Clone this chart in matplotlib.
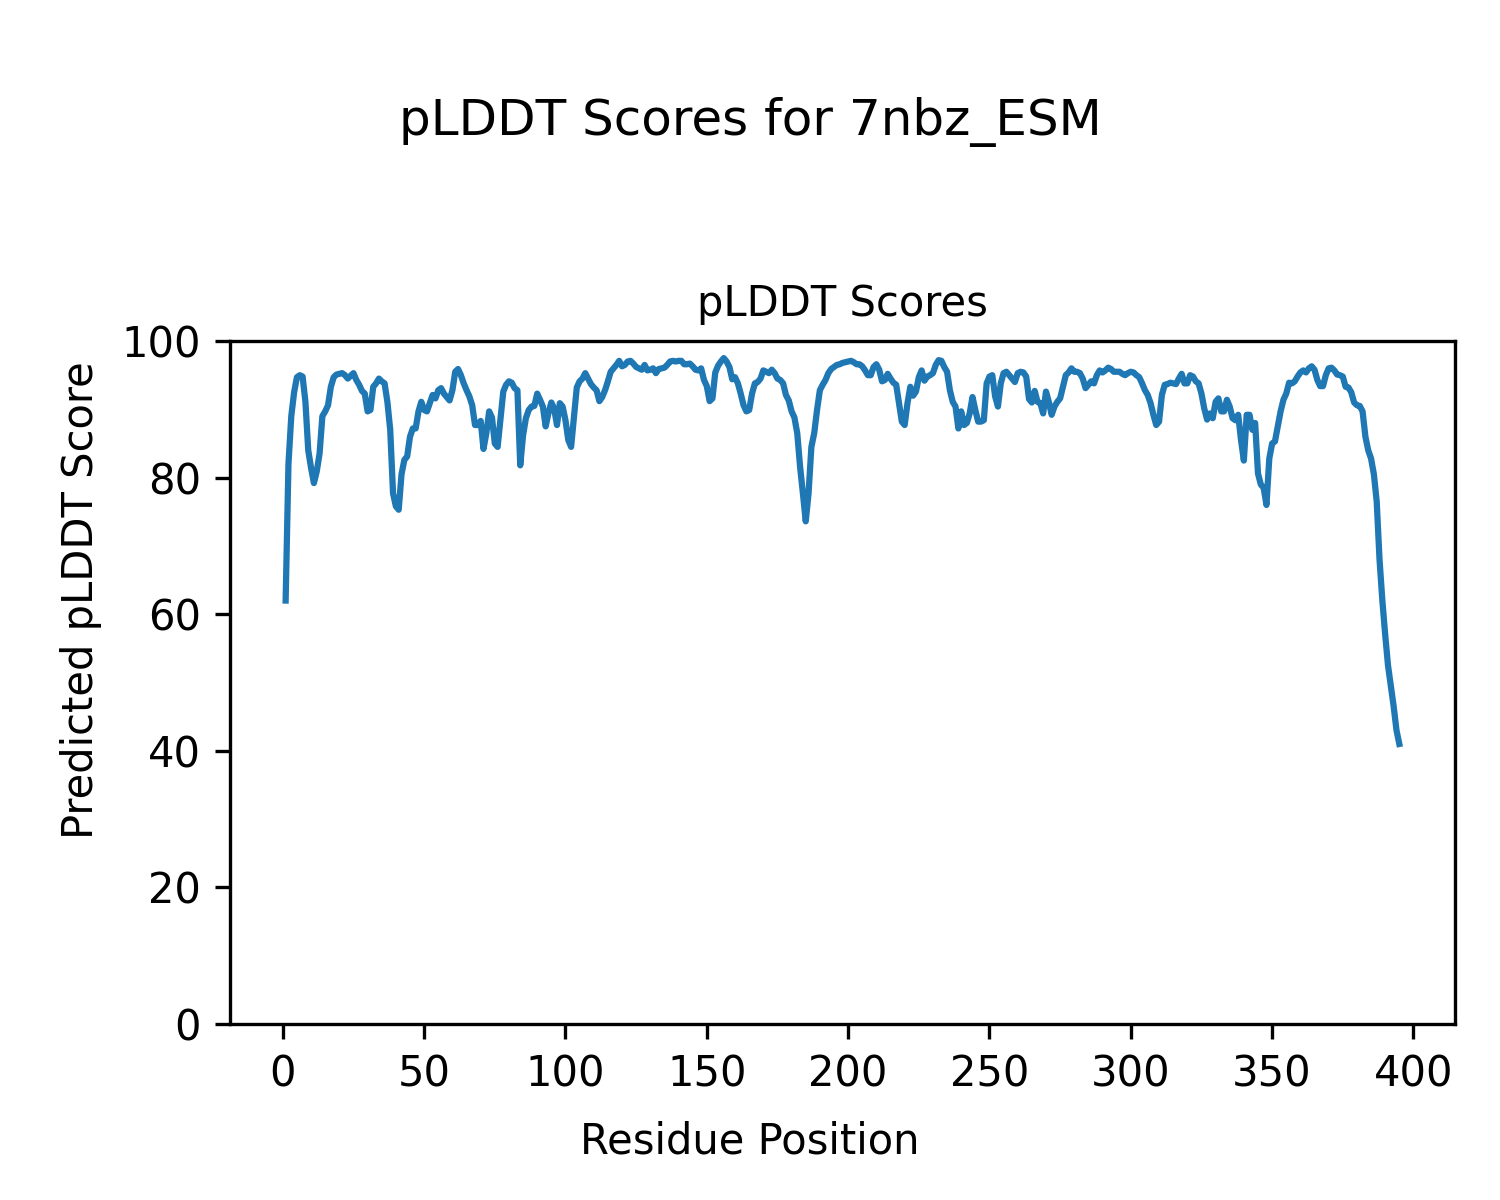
import numpy as np
import matplotlib
matplotlib.use("Agg")
import matplotlib.pyplot as plt  # noqa: E402

PROTEIN = "7nbz_ESM"

# per-residue pLDDT (residues 1..395)
plddt = [
    62.0, 82.0, 89.0, 92.5, 94.7, 95.0, 94.8, 91.1, 84.0, 81.4,
    79.2, 80.9, 83.5, 89.0, 89.7, 90.6, 93.3, 94.7, 95.1, 95.2,
    95.3, 95.0, 94.5, 94.9, 95.3, 94.3, 93.6, 92.7, 92.3, 89.7,
    89.9, 93.3, 93.8, 94.5, 94.1, 93.8, 91.1, 87.0, 77.7, 75.8,
    75.3, 80.5, 82.6, 83.1, 86.0, 87.2, 87.2, 89.7, 91.1, 89.9,
    89.7, 90.9, 92.1, 91.6, 92.8, 93.1, 92.3, 91.8, 91.3, 92.8,
    95.5, 95.9, 95.0, 93.8, 92.8, 91.9, 90.6, 87.7, 87.7, 88.3,
    84.2, 86.5, 89.7, 88.8, 85.0, 84.5, 88.5, 92.6, 93.6, 94.1,
    93.9, 93.1, 92.8, 81.8, 86.2, 88.7, 89.9, 90.4, 90.5, 92.3,
    91.4, 90.4, 87.5, 89.5, 91.0, 90.1, 87.7, 90.9, 90.4, 88.4,
    85.5, 84.5, 88.8, 93.2, 94.1, 94.5, 95.3, 94.5, 93.7, 93.2,
    92.8, 91.2, 91.8, 92.8, 94.1, 95.5, 96.0, 96.5, 97.1, 96.3,
    96.5, 97.0, 97.1, 96.7, 96.2, 96.0, 95.8, 96.5, 95.7, 95.8,
    96.0, 95.3, 95.9, 96.0, 96.1, 96.5, 97.0, 97.1, 97.0, 97.1,
    97.1, 96.6, 96.6, 96.7, 96.3, 95.8, 95.7, 96.0, 94.3, 93.4,
    91.2, 91.6, 95.4, 96.4, 97.0, 97.5, 97.0, 96.2, 94.4, 94.7,
    93.8, 92.3, 90.6, 89.7, 89.9, 92.3, 93.8, 94.0, 94.5, 95.7,
    95.5, 95.3, 95.8, 95.3, 94.5, 94.3, 93.8, 92.1, 91.3, 89.7,
    88.8, 86.5, 81.6, 77.7, 73.6, 77.7, 84.5, 86.5, 89.9, 92.8,
    93.6, 94.3, 95.3, 95.9, 96.2, 96.5, 96.6, 96.8, 96.9, 97.0,
    97.1, 96.9, 96.6, 96.6, 96.3, 95.7, 95.0, 95.0, 96.2, 96.6,
    95.8, 94.1, 94.3, 95.2, 94.5, 93.9, 93.6, 90.9, 88.2, 87.7,
    90.9, 93.3, 92.0, 92.6, 94.7, 95.7, 94.2, 94.8, 95.0, 95.3,
    96.5, 97.2, 97.1, 96.2, 95.5, 92.8, 91.1, 90.4, 87.2, 89.7,
    87.7, 88.0, 89.4, 91.8, 89.9, 88.2, 88.2, 88.4, 93.8, 94.8,
    95.0, 91.9, 90.4, 93.8, 95.3, 95.5, 95.0, 94.5, 94.0, 95.3,
    95.5, 95.4, 94.8, 91.5, 91.0, 92.7, 91.1, 90.9, 89.4, 92.6,
    91.1, 89.2, 90.4, 91.1, 91.6, 93.3, 95.0, 95.4, 96.0, 95.5,
    95.5, 95.3, 94.5, 93.1, 93.6, 94.1, 93.8, 95.0, 95.7, 95.4,
    95.7, 96.1, 95.9, 95.5, 95.5, 95.5, 95.2, 95.0, 95.3, 95.5,
    95.4, 95.0, 94.7, 93.8, 92.8, 92.1, 90.9, 89.2, 87.7, 88.2,
    92.1, 93.6, 93.7, 93.9, 93.8, 93.7, 94.5, 95.2, 93.8, 93.8,
    95.0, 94.8, 94.1, 93.8, 92.3, 90.1, 88.5, 89.4, 88.7, 91.1,
    91.6, 89.7, 89.7, 91.4, 90.4, 88.7, 88.4, 89.2, 85.5, 82.5,
    89.2, 89.2, 87.0, 88.0, 80.6, 79.0, 78.5, 76.0, 82.8, 85.0,
    85.3, 87.5, 89.7, 91.4, 92.3, 93.9, 93.8, 94.1, 94.8, 95.4,
    95.7, 95.4, 96.0, 96.3, 95.8, 94.3, 93.4, 93.4, 95.0, 96.0,
    96.1, 95.7, 95.1, 95.0, 94.8, 93.3, 93.2, 92.5, 91.0, 90.6,
    90.5, 89.7, 86.0, 84.0, 82.8, 80.5, 76.5, 68.0, 62.0, 57.0,
    52.5, 49.5, 46.5, 43.0, 41.0,
]
residues = np.arange(1, len(plddt) + 1)

fig, ax = plt.subplots(figsize=(5, 4), dpi=300)
fig.subplots_adjust(left=0.1533, right=0.97, bottom=0.1467, top=0.7158)

ax.plot(residues, plddt)
ax.set_ylim(0, 100)
ax.set_title("pLDDT Scores", fontsize=10)

# axis labels sit on the figure, centred on the page rather than the axes
fig.supxlabel("Residue Position", fontsize=10, y=0.031)
fig.supylabel("Predicted pLDDT Score", fontsize=10, x=0.04)
fig.suptitle(f"pLDDT Scores for {PROTEIN}", y=0.919)

fig.savefig("out.png", dpi=300)
